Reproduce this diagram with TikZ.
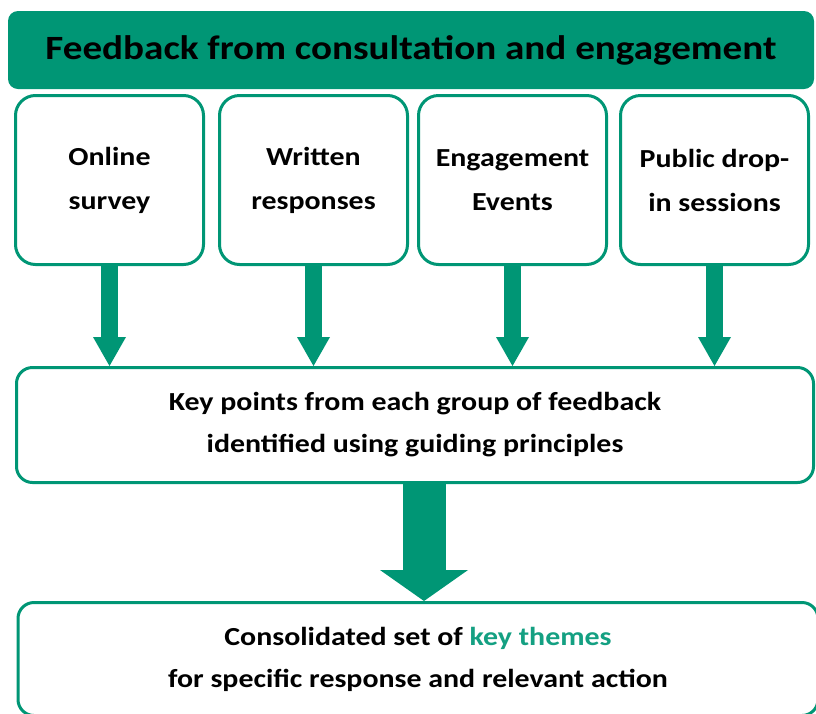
\documentclass[tikz,border=0pt]{standalone}
\usepackage{fontspec}
\setmainfont{Carlito}[FakeStretch=1.15]
\usetikzlibrary{arrows.meta}

\definecolor{fbgreen}{RGB}{0,150,117}
\definecolor{themegreen}{RGB}{20,160,130}

\tikzset{
  srcbox/.style={draw=fbgreen,line width=3pt,rounded corners=20pt,fill=white,
    minimum width=188pt,minimum height=169pt,align=center,
    font=\bfseries\fontsize{26}{44}\selectfont},
  widebox/.style={draw=fbgreen,line width=3pt,rounded corners=16pt,fill=white,
    align=center,font=\bfseries\fontsize{26}{42}\selectfont},
  thinarrow/.style={draw=fbgreen,line width=17pt,
    -{Triangle[width=33pt,length=29pt,line width=0pt]}},
  fatarrow/.style={draw=fbgreen,line width=43pt,
    -{Triangle[width=88pt,length=31pt,line width=0pt]}}
}

\begin{document}
\begin{tikzpicture}[x=1pt,y=-1pt]
\useasboundingbox (0,0) rectangle (816,713);
% header bar
\node[fill=fbgreen,rounded corners=10pt,minimum width=806pt,minimum height=78pt,
  font=\bfseries\fontsize{34}{40}\selectfont] (head) at (411,50)
  {Feedback from consultation and engagement};
% the four sources of feedback
\node[srcbox] (online) at (109.5,180) {Online\\survey};
\node[srcbox] (written) at (313.5,180) {Written\\responses};
\node[srcbox] (events) at (512.5,180) {Engagement\\Events};
\node[srcbox] (dropin) at (714.5,180) {Public drop-\\in sessions};
% key points and themes (the last one runs off the page)
\node[widebox,minimum width=797pt,minimum height=115pt] (keypts) at (415,425)
  {Key points from each group of feedback\\identified using guiding principles};
\node[widebox,minimum width=800pt,minimum height=113pt] (themes) at (418,659)
  {Consolidated set of \textcolor{themegreen}{key themes}\\for specific response and relevant action};
% arrows
\draw[thinarrow] (online.south) -- (online.south |- keypts.north);
\draw[thinarrow] (written.south) -- (written.south |- keypts.north);
\draw[thinarrow] (events.south) -- (events.south |- keypts.north);
\draw[thinarrow] (dropin.south) -- (dropin.south |- keypts.north);
\draw[fatarrow] (keypts.south -| 424,0) -- (themes.north -| 424,0);
\end{tikzpicture}
\end{document}
